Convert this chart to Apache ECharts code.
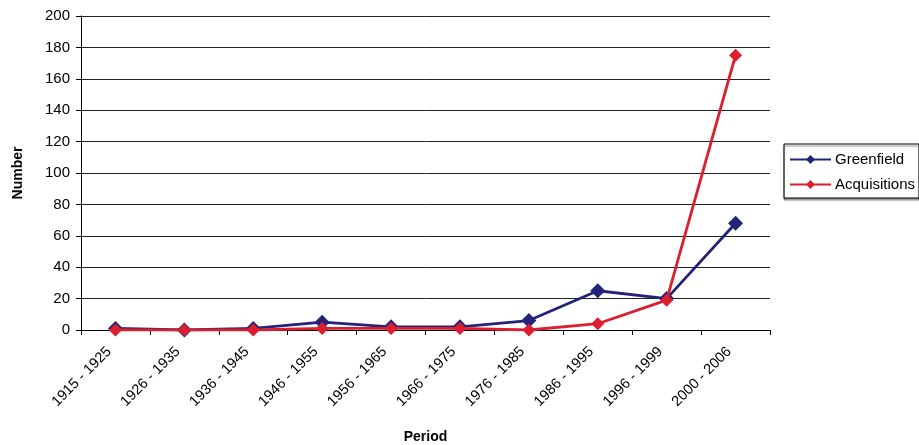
<!DOCTYPE html>
<html>
<head>
<meta charset="utf-8">
<script src="https://cdn.jsdelivr.net/npm/echarts@6/dist/echarts.min.js"></script>
<style>
  html, body { margin: 0; padding: 0; background: #fff; }
  #chart { width: 919px; height: 445px; }
</style>
</head>
<body>
<div id="chart"></div>
<script>
// Periods on the category axis
const periods = ['1915 - 1925', '1926 - 1935', '1936 - 1945', '1946 - 1955', '1956 - 1965',
                 '1966 - 1975', '1976 - 1985', '1986 - 1995', '1996 - 1999', '2000 - 2006'];
// Number of greenfield investments per period
const greenfield = [1, 0, 1, 5, 2, 2, 6, 25, 20, 68];
// Number of acquisitions per period
const acquisitions = [0, 0, 0, 1, 1, 1, 0, 4, 19, 175];

const FONT = 'Liberation Sans, Arial, sans-serif';
const chart = echarts.init(document.getElementById('chart'));

chart.setOption({
  animation: false,
  textStyle: { fontFamily: FONT, color: '#000' },
  grid: { left: 81, right: 149, top: 16, bottom: 115, outerBoundsMode: 'none', containLabel: false },
  legend: {
    orient: 'vertical',
    left: 784,
    top: 144,
    padding: [8, 4, 6, 5],
    itemGap: 10,
    itemWidth: 41,
    itemHeight: 11,
    borderColor: '#000',
    borderWidth: 1,
    shadowColor: 'rgba(0,0,0,0.45)',
    shadowOffsetX: 0,
    shadowOffsetY: 2,
    shadowBlur: 1,
    backgroundColor: '#fff',
    textStyle: { fontFamily: FONT, fontSize: 15, color: '#000', padding: [0, 0, 0, -1] },
    data: ['Greenfield', 'Acquisitions']
  },
  xAxis: {
    type: 'category',
    data: periods,
    boundaryGap: true,
    name: 'Period',
    nameLocation: 'middle',
    nameGap: 100,
    nameTextStyle: { fontFamily: FONT, fontSize: 14, fontWeight: 'bold', color: '#000' },
    axisLine: { lineStyle: { color: '#000', width: 1 } },
    axisTick: { show: true, alignWithLabel: false, length: 5, lineStyle: { color: '#000' } },
    axisLabel: {
      rotate: 45, fontFamily: FONT, fontSize: 14.5, color: '#000', margin: 13, interval: 0,
      padding: [0, 9, 0, 0]
    },
    splitLine: { show: false }
  },
  yAxis: {
    type: 'value',
    min: 0,
    max: 200,
    interval: 20,
    name: 'Number',
    nameLocation: 'middle',
    nameGap: 56,
    nameTextStyle: { fontFamily: FONT, fontSize: 14, fontWeight: 'bold', color: '#000' },
    axisLine: { show: true, lineStyle: { color: '#000', width: 1 } },
    axisTick: { show: true, length: 5, lineStyle: { color: '#000' } },
    axisLabel: { fontFamily: FONT, fontSize: 15, color: '#000', margin: 11 },
    splitLine: { show: true, lineStyle: { color: '#222', width: 1 } }
  },
  series: [
    {
      name: 'Greenfield',
      type: 'line',
      data: greenfield,
      symbol: 'diamond',
      symbolSize: 15,
      color: '#23237A',
      lineStyle: { color: '#23237A', width: 2.8 },
      itemStyle: { color: '#23237A' },
      z: 2
    },
    {
      name: 'Acquisitions',
      type: 'line',
      data: acquisitions,
      symbol: 'diamond',
      symbolSize: 13,
      color: '#DC1F2E',
      lineStyle: { color: '#DC1F2E', width: 2.8 },
      itemStyle: { color: '#DC1F2E' },
      z: 3
    }
  ]
});
</script>
</body>
</html>
